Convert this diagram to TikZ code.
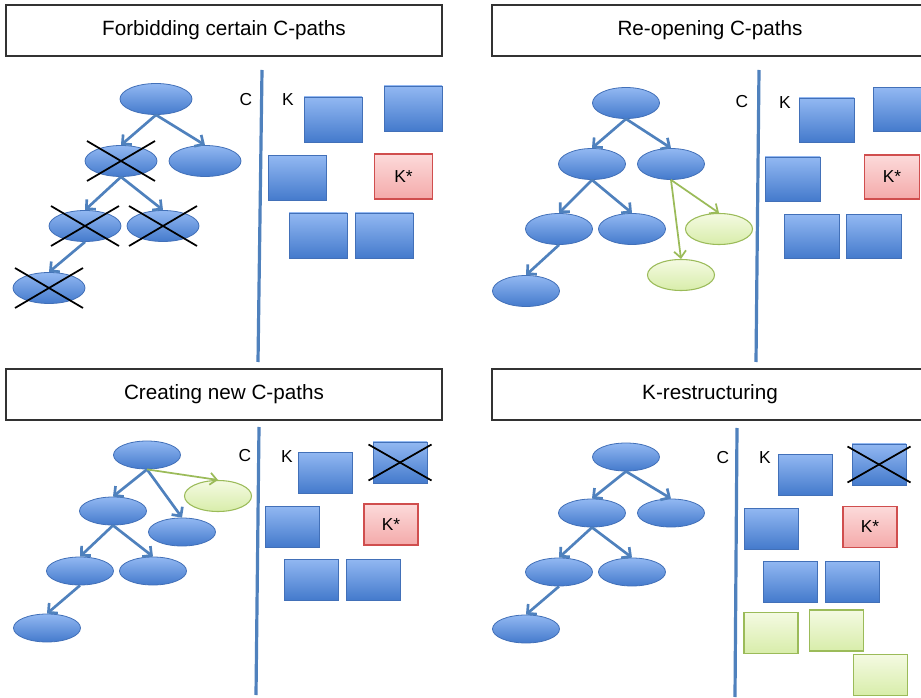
\documentclass[tikz,border=0pt]{standalone}
\usepackage{fontspec}
\setmainfont{Liberation Sans}
\usetikzlibrary{arrows.meta,shapes.geometric}
\definecolor{bluetop}{RGB}{146,184,242}
\definecolor{bluebot}{RGB}{68,122,204}
\definecolor{blueedge}{RGB}{66,112,184}
\definecolor{blueline}{RGB}{79,129,189}
\definecolor{pinktop}{RGB}{252,218,218}
\definecolor{pinkbot}{RGB}{244,170,170}
\definecolor{pinkedge}{RGB}{208,78,78}
\definecolor{greentop}{RGB}{244,250,226}
\definecolor{greenbot}{RGB}{216,237,170}
\definecolor{greenedge}{RGB}{155,187,89}
\definecolor{titleedge}{RGB}{50,50,50}
\tikzset{
  titlebox/.style={draw=titleedge, line width=1.2pt, fill=white, inner sep=0pt,
    minimum width=327pt, minimum height=38.25pt, font=\fontsize{15.5}{18}\selectfont},
  lbl/.style={font=\fontsize{13}{15}\selectfont, inner sep=0pt},
  ellA/.style={ellipse, draw=blueedge, line width=0.6pt, top color=bluetop, bottom color=bluebot, inner sep=0pt},
  ellB/.style={ellipse, draw=greenedge, line width=0.8pt, top color=greentop, bottom color=greenbot, inner sep=0pt},
  kbox/.style={rectangle, draw=blueedge, line width=0.6pt, top color=bluetop, bottom color=bluebot, inner sep=0pt},
  kstar/.style={rectangle, draw=pinkedge, line width=0.8pt, top color=pinktop, bottom color=pinkbot, inner sep=0pt, font=\fontsize{13}{15}\selectfont},
  gbox/.style={rectangle, draw=greenedge, line width=0.8pt, top color=greentop, bottom color=greenbot, inner sep=0pt},
  sz1/.style={minimum width=54pt, minimum height=23.25pt},
  sz2/.style={minimum width=50.25pt, minimum height=23.25pt},
  sz3/.style={minimum width=50.25pt, minimum height=21pt},
  bx1/.style={minimum width=43.5pt, minimum height=33.75pt},
  bx2/.style={minimum width=41.25pt, minimum height=33pt},
  bx3/.style={minimum width=40.5pt, minimum height=30.75pt},
  tarrow/.style={draw=blueline, line width=2pt, -{Straight Barb[length=5pt,width=10pt]}},
  garrow/.style={draw=greenedge, line width=1.3pt, -{Straight Barb[length=5pt,width=9pt]}},
  vline/.style={draw=blueline, line width=2.4pt},
  xcross/.style={draw=black, line width=1.3pt},
}
\begin{document}
\begin{tikzpicture}[x=0.75pt,y=-0.75pt]
\useasboundingbox (0,0) rectangle (921,698);
\clip (0,0) rectangle (921,698);
\fill[white] (0,0) rectangle (921,698);

% ---------------- Panel 1 ----------------
\node[titlebox] (p1t) at (224,30.5) {Forbidding certain C-paths};
\coordinate (p1v1) at (262,70);
\coordinate (p1v2) at (258,362);
\draw[vline] (p1v1) -- (p1v2);
\node[lbl] (p1C) at (246,100) {C};
\node[lbl] (p1K) at (288,100) {K};
\node[ellA,sz1] (p1r) at (156,99) {};
\node[ellA,sz1] (p1a) at (121,161) {};
\node[ellA,sz1] (p1b) at (205,161) {};
\node[ellA,sz1] (p1c) at (85,226) {};
\node[ellA,sz1] (p1d) at (163,226) {};
\node[ellA,sz1] (p1e) at (49,288) {};
\draw[tarrow] (p1r.south) -- (p1a.north);
\draw[tarrow] (p1r.south) -- (p1b.north);
\draw[tarrow] (p1a.south) -- (p1c.north);
\draw[tarrow] (p1a.south) -- (p1d.north);
\draw[tarrow] (p1c.south) -- (p1e.north);
\foreach \n in {p1a,p1c,p1d,p1e}{
  \draw[xcross] ([shift={(-34,-20)}]\n.center) -- ([shift={(34,20)}]\n.center);
  \draw[xcross] ([shift={(-34,20)}]\n.center) -- ([shift={(34,-20)}]\n.center);
}
\node[kbox,bx1] (p1k1) at (333,119.5) {};
\node[kbox,bx1] (p1k2) at (413,108.5) {};
\node[kbox,bx1] (p1k3) at (297,178) {};
\node[kstar,bx1] (p1ks) at (403.5,176.5) {K*};
\node[kbox,bx1] (p1k5) at (318,235.5) {};
\node[kbox,bx1] (p1k6) at (384,235.5) {};

% ---------------- Panel 2 ----------------
\node[titlebox] (p2t) at (710,30.5) {Re-opening C-paths};
\coordinate (p2v1) at (759,70);
\coordinate (p2v2) at (756,362);
\draw[vline] (p2v1) -- (p2v2);
\node[lbl] (p2C) at (742,102) {C};
\node[lbl] (p2K) at (785,103) {K};
\node[ellA,sz2] (p2r) at (626,103) {};
\node[ellA,sz2] (p2a) at (592,164) {};
\node[ellA,sz2] (p2b) at (671,164) {};
\node[ellA,sz2] (p2c) at (559,229) {};
\node[ellA,sz2] (p2d) at (632,229) {};
\node[ellA,sz2] (p2e) at (526,291) {};
\node[ellB,sz2] (p2g) at (719,229) {};
\node[ellB,sz2] (p2h) at (681,275) {};
\draw[tarrow] (p2r.south) -- (p2a.north);
\draw[tarrow] (p2r.south) -- (p2b.north);
\draw[tarrow] (p2a.south) -- (p2c.north);
\draw[tarrow] (p2a.south) -- (p2d.north);
\draw[tarrow] (p2c.south) -- (p2e.north);
\draw[garrow] (p2b.south) -- (p2g.north);
\draw[garrow] (p2b.south) -- (p2h.north);
\node[kbox,bx2] (p2k1) at (826.5,120) {};
\node[kbox,bx2] (p2k2) at (900.5,109.5) {};
\node[kbox,bx2] (p2k3) at (792.5,179) {};
\node[kstar,bx2] (p2ks) at (892,177) {K*};
\node[kbox,bx2] (p2k5) at (812,236.5) {};
\node[kbox,bx2] (p2k6) at (874,236.5) {};

% ---------------- Panel 3 ----------------
\node[titlebox] (p3t) at (224,394.5) {Creating new C-paths};
\coordinate (p3v1) at (259,427);
\coordinate (p3v2) at (256,695);
\draw[vline] (p3v1) -- (p3v2);
\node[lbl] (p3C) at (245,456) {C};
\node[lbl] (p3K) at (287,457) {K};
\node[ellA,sz3] (p3r) at (147,455) {};
\node[ellA,sz3] (p3a) at (113,511) {};
\node[ellA,sz3] (p3b) at (182,532) {};
\node[ellA,sz3] (p3c) at (80,571) {};
\node[ellA,sz3] (p3d) at (153,571) {};
\node[ellA,sz3] (p3e) at (47,628) {};
\node[ellB,sz2] (p3g) at (218,496) {};
\draw[tarrow] (p3r.south) -- (p3a.north);
\draw[tarrow] (p3r.south) -- (p3b.north);
\draw[tarrow] (p3a.south) -- (p3c.north);
\draw[tarrow] (p3a.south) -- (p3d.north);
\draw[tarrow] (p3c.south) -- (p3e.north);
\draw[garrow] (p3r.south) -- (p3g.north);
\node[kbox,bx3] (p3k1) at (325.5,472.5) {};
\node[kbox,bx3] (p3k2) at (400,462.5) {};
\draw[xcross] ([shift={(-31.5,-18)}]p3k2.center) -- ([shift={(31.5,18)}]p3k2.center);
\draw[xcross] ([shift={(-31.5,18)}]p3k2.center) -- ([shift={(31.5,-18)}]p3k2.center);
\node[kbox,bx3] (p3k3) at (292,526.5) {};
\node[kstar,bx3] (p3ks) at (391,524.5) {K*};
\node[kbox,bx3] (p3k5) at (311,579.5) {};
\node[kbox,bx3] (p3k6) at (373,579.5) {};

% ---------------- Panel 4 ----------------
\node[titlebox] (p4t) at (710,394.5) {K-restructuring};
\coordinate (p4v1) at (737,428);
\coordinate (p4v2) at (735,697);
\draw[vline] (p4v1) -- (p4v2);
\node[lbl] (p4C) at (723,458) {C};
\node[lbl] (p4K) at (765,458) {K};
\node[ellA,sz3] (p4r) at (626,457) {};
\node[ellA,sz3] (p4a) at (592,513) {};
\node[ellA,sz3] (p4b) at (671,513) {};
\node[ellA,sz3] (p4c) at (559,572) {};
\node[ellA,sz3] (p4d) at (632,572) {};
\node[ellA,sz3] (p4e) at (526,629) {};
\draw[tarrow] (p4r.south) -- (p4a.north);
\draw[tarrow] (p4r.south) -- (p4b.north);
\draw[tarrow] (p4a.south) -- (p4c.north);
\draw[tarrow] (p4a.south) -- (p4d.north);
\draw[tarrow] (p4c.south) -- (p4e.north);
\node[kbox,bx3] (p4k1) at (805,474.5) {};
\node[kbox,bx3] (p4k2) at (879,464.5) {};
\draw[xcross] ([shift={(-31.5,-18)}]p4k2.center) -- ([shift={(31.5,18)}]p4k2.center);
\draw[xcross] ([shift={(-31.5,18)}]p4k2.center) -- ([shift={(31.5,-18)}]p4k2.center);
\node[kbox,bx3] (p4k3) at (771,528.5) {};
\node[kstar,bx3] (p4ks) at (870,527) {K*};
\node[kbox,bx3] (p4k5) at (790.5,581.5) {};
\node[kbox,bx3] (p4k6) at (852,581.5) {};
\node[gbox,bx3] (p4g1) at (771,633) {};
\node[gbox,bx3] (p4g2) at (836.5,630.5) {};
\node[gbox,bx3] (p4g3) at (880.5,675) {};
\end{tikzpicture}
\end{document}
